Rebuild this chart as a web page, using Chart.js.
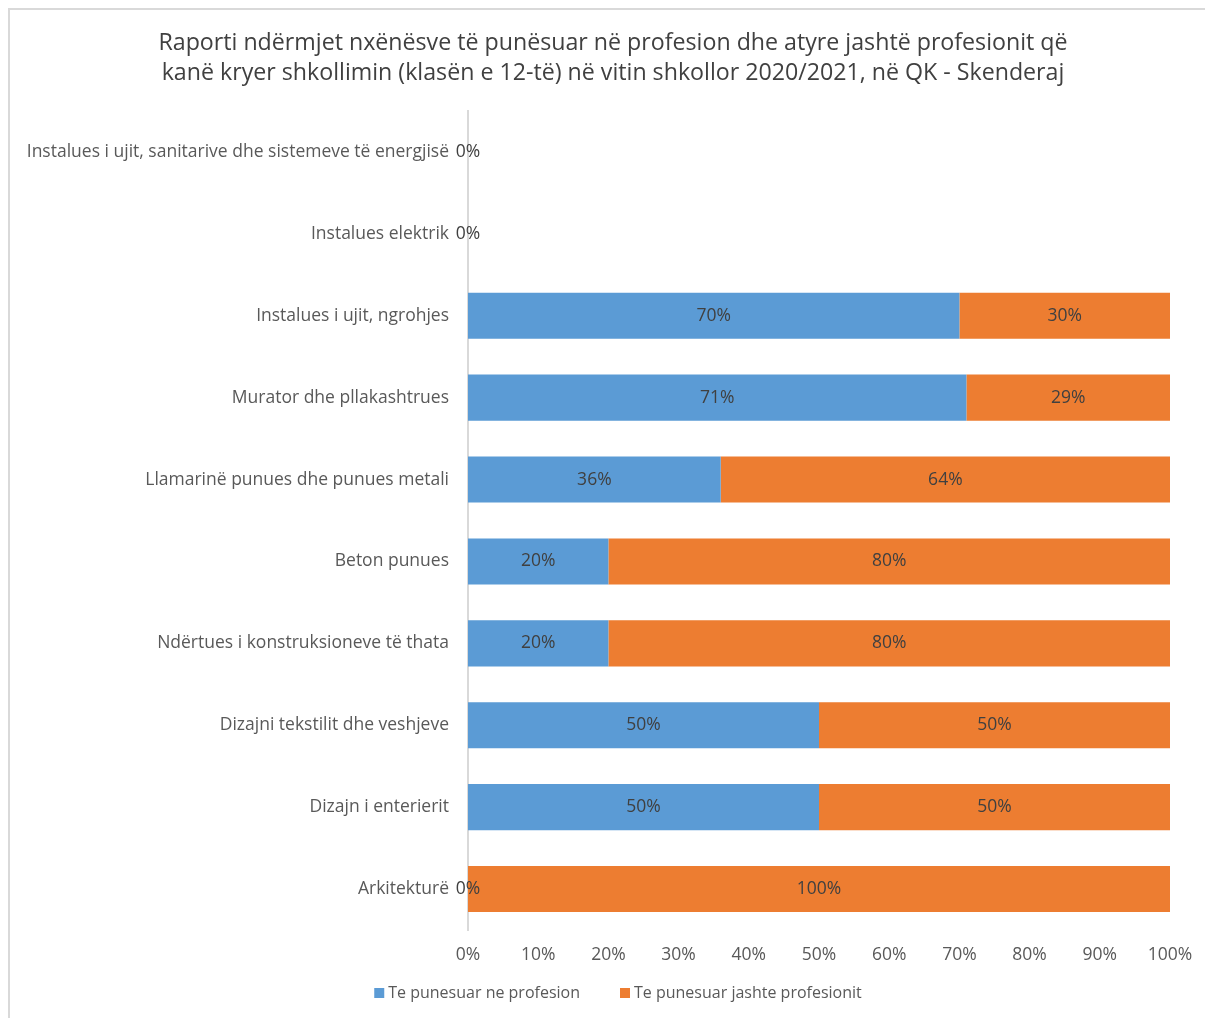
<!DOCTYPE html>
<html>
<head>
<meta charset="utf-8">
<script src="https://cdn.jsdelivr.net/npm/chart.js@4.4.1/dist/chart.umd.min.js"></script>
<style>
  html, body { margin: 0; padding: 0; background: #fff; }
  #wrap { position: absolute; left: 0; top: 0; width: 1205px; height: 1018px; }
</style>
</head>
<body>
<div id="wrap"><canvas id="chart" width="1205" height="1018"></canvas></div>
<script>
// te dhenat
var categories = [
    'Instalues i ujit, sanitarive dhe sistemeve të energjisë',
    'Instalues elektrik',
    'Instalues i ujit, ngrohjes',
    'Murator dhe pllakashtrues',
    'Llamarinë punues dhe punues metali',
    'Beton punues',
    'Ndërtues i konstruksioneve të thata',
    'Dizajni tekstilit dhe veshjeve',
    'Dizajn i enterierit',
    'Arkitekturë'
];
var neProfesion = [0, 0, 70, 71, 36, 20, 20, 50, 50, 0];
var jashteProfesionit = [null, null, 30, 29, 64, 80, 80, 50, 50, 100];
var xTicks = [0, 10, 20, 30, 40, 50, 60, 70, 80, 90, 100];
var titleLines = [
    'Raporti ndërmjet nxënësve të punësuar në profesion dhe atyre jashtë profesionit që',
    'kanë kryer shkollimin (klasën e 12-të) në vitin shkollor 2020/2021, në QK - Skenderaj'
];

var FONT = '"Open Sans", "Liberation Sans", sans-serif';

// korniza gri
var framePlugin = {
    id: 'frame',
    beforeDraw: function (chart) {
        var c = chart.ctx;
        c.save();
        c.fillStyle = '#fff';
        c.fillRect(0, 0, chart.width, chart.height);
        c.strokeStyle = '#d9d9d9';
        c.lineWidth = 2;
        c.beginPath();
        c.moveTo(9, chart.height);
        c.lineTo(9, 9);
        c.lineTo(chart.width, 9);
        c.stroke();
        c.restore();
    }
};

// titulli
var titlePlugin = {
    id: 'titulli',
    afterDraw: function (chart) {
        var c = chart.ctx;
        c.save();
        c.font = '23.2px ' + FONT;
        c.fillStyle = '#404040';
        c.textAlign = 'center';
        c.textBaseline = 'middle';
        titleLines.forEach(function (t, i) {
            c.fillText(t, 613, 43 + i * 30);
        });
        c.restore();
    }
};

// etiketat e vlerave
var labelsPlugin = {
    id: 'vlerat',
    afterDatasetsDraw: function (chart) {
        var c = chart.ctx;
        c.save();
        c.font = '17.5px ' + FONT;
        c.fillStyle = '#404040';
        c.textAlign = 'center';
        c.textBaseline = 'middle';
        chart.data.datasets.forEach(function (ds, i) {
            var meta = chart.getDatasetMeta(i);
            meta.data.forEach(function (el, j) {
                var v = ds.data[j];
                if (v === null) return;
                c.fillText(v + '%', (el.x + el.base) / 2, el.y);
            });
        });
        c.restore();
    }
};

// legjenda poshte
var legendPlugin = {
    id: 'legjenda',
    afterDraw: function (chart) {
        var c = chart.ctx;
        var items = chart.data.datasets;
        c.save();
        c.font = '16px ' + FONT;
        c.textBaseline = 'middle';
        c.textAlign = 'left';
        var gap = 40, box = 10, sp = 4;
        var total = 0;
        items.forEach(function (ds, i) {
            total += box + sp + c.measureText(ds.label).width + (i > 0 ? gap : 0);
        });
        var x = 618 - total / 2;
        var y = 993;
        items.forEach(function (ds) {
            c.fillStyle = ds.backgroundColor;
            c.fillRect(x, y - box / 2, box, box);
            x += box + sp;
            c.fillStyle = '#595959';
            c.fillText(ds.label, x, y);
            x += c.measureText(ds.label).width + gap;
        });
        c.restore();
    }
};

var ctx = document.getElementById('chart').getContext('2d');
var chart = new Chart(ctx, {
    type: 'bar',
    data: {
        labels: categories,
        datasets: [{
            label: 'Te punesuar ne profesion',
            data: neProfesion,
            backgroundColor: '#5b9bd5',
            barPercentage: 0.5625,
            categoryPercentage: 1
        }, {
            label: 'Te punesuar jashte profesionit',
            data: jashteProfesionit,
            backgroundColor: '#ed7d31',
            barPercentage: 0.5625,
            categoryPercentage: 1
        }]
    },
    options: {
        indexAxis: 'y',
        responsive: false,
        animation: false,
        layout: { padding: { left: 0, right: 35, top: 111, bottom: 48 } },
        plugins: {
            title: { display: false },
            legend: { display: false },
            tooltip: { enabled: false }
        },
        scales: {
            x: {
                stacked: true,
                min: 0,
                max: 100,
                afterBuildTicks: function (s) {
                    s.ticks = xTicks.map(function (v) { return { value: v }; });
                },
                afterFit: function (s) {
                    s.height = 40;
                    s.paddingLeft = 0;
                    s.paddingRight = 0;
                },
                ticks: {
                    color: '#595959',
                    font: { family: FONT, size: 17.5 },
                    padding: 15,
                    maxRotation: 0,
                    autoSkip: false,
                    callback: function (v) { return v + '%'; }
                },
                grid: { display: false, drawTicks: false },
                border: { display: false }
            },
            y: {
                stacked: true,
                afterFit: function (s) { s.width = 468; },
                ticks: {
                    color: '#595959',
                    font: { family: FONT, size: 17.5 },
                    padding: 19
                },
                grid: { display: false, drawTicks: false },
                border: { display: true, color: '#d9d9d9', width: 2 }
            }
        }
    },
    plugins: [framePlugin, titlePlugin, labelsPlugin, legendPlugin]
});
</script>
</body>
</html>
